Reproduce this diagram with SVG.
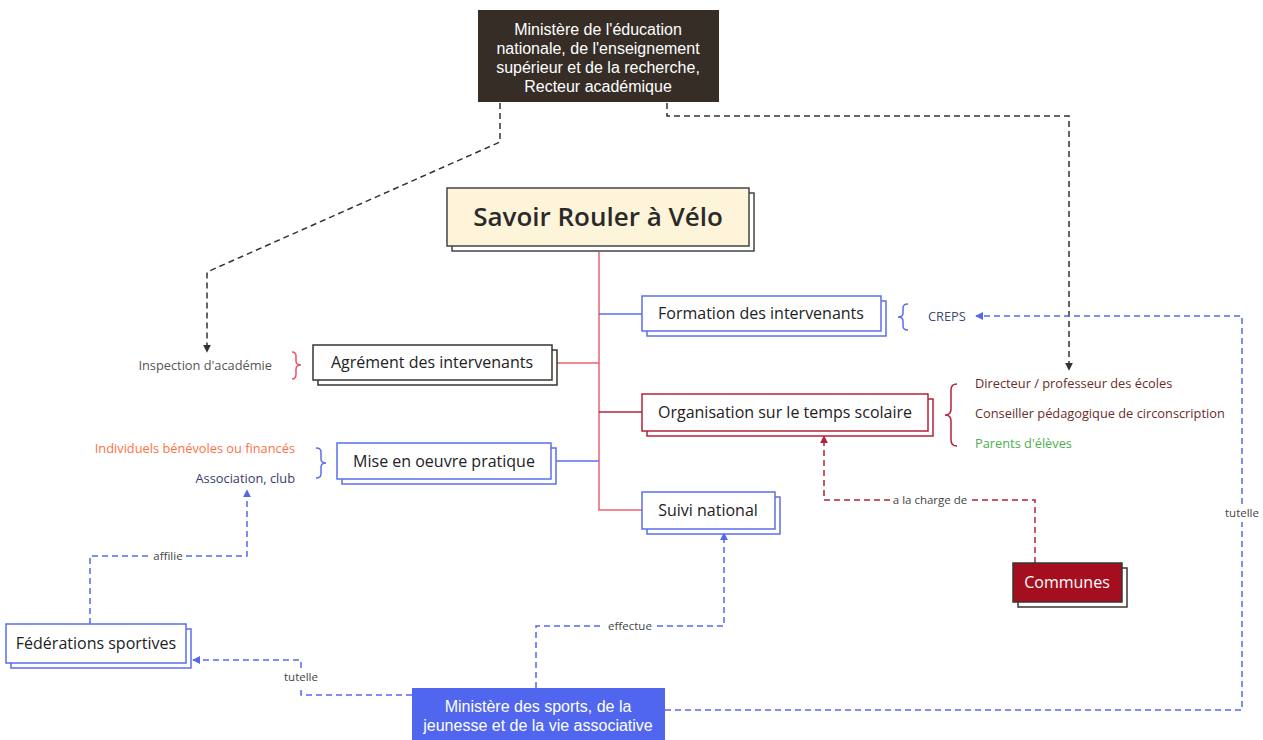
<svg xmlns="http://www.w3.org/2000/svg" width="1263" height="740" viewBox="0 0 1263 740">
<defs>
<style>
text{font-family:"Open Sans","Liberation Sans",sans-serif;}
.ttl{font-size:16px;fill:#222;}
.wt{fill:#fff;font-size:16px;}
.ml{font-family:"Liberation Sans",Arial,sans-serif;font-size:16px;fill:#fff;}
.sm{font-size:12.8px;}
.lbl{font-size:11.5px;fill:#444;}
.dash{fill:none;stroke-width:1.5;stroke-dasharray:6 4;}
.blue{stroke:#5567ef;}
.dark{stroke:#333;}
.dred{stroke:#b3233a;}
.bx{fill:#fff;stroke-width:1.5;}
</style>
<marker id="aBlue" viewBox="0 0 10 10" refX="9" refY="5" markerWidth="8" markerHeight="8" markerUnits="userSpaceOnUse" orient="auto"><path d="M0,0 L10,5 L0,10 z" fill="#5567ef"/></marker>
<marker id="aDark" viewBox="0 0 10 10" refX="9" refY="5" markerWidth="8" markerHeight="8" markerUnits="userSpaceOnUse" orient="auto"><path d="M0,0 L10,5 L0,10 z" fill="#333"/></marker>
<marker id="aRed" viewBox="0 0 10 10" refX="9" refY="5" markerWidth="8" markerHeight="8" markerUnits="userSpaceOnUse" orient="auto"><path d="M0,0 L10,5 L0,10 z" fill="#b3233a"/></marker>
</defs>
<rect width="1263" height="740" fill="#fff"/>

<g id="connectors">
  <path d="M599,252 V510 H642" fill="none" stroke="#ef6070" stroke-width="1.5"/>
  <path d="M599,314 H642" fill="none" stroke="#5b6ef0" stroke-width="1.5"/>
  <path d="M599,363 H557" fill="none" stroke="#ef6070" stroke-width="1.5"/>
  <path d="M599,412 H642" fill="none" stroke="#b3233a" stroke-width="1.5"/>
  <path d="M599,461 H556" fill="none" stroke="#5b6ef0" stroke-width="1.5"/>
  <path class="dash dark" d="M500,103 V142 L207,272 V352" marker-end="url(#aDark)"/>
  <path class="dash dark" d="M667,103 V116 H1069 V370" marker-end="url(#aDark)"/>
  <path class="dash dred" d="M1035,563 V500 H970 M890,500 H824 V436" marker-end="url(#aRed)"/>
  <path class="dash blue" d="M665,710 H1242 V522 M1242,504 V316 H976" marker-end="url(#aBlue)"/>
  <path class="dash blue" d="M536,688 V626 H603 M657,626 H724 V533" marker-end="url(#aBlue)"/>
  <path class="dash blue" d="M412,695 H301 V686 M301,668 V660 H193" marker-end="url(#aBlue)"/>
  <path class="dash blue" d="M90,624 V556 H150 M186,556 H247 V490" marker-end="url(#aBlue)"/>
  <text class="lbl" x="930" y="504" text-anchor="middle">a la charge de</text>
  <text class="lbl" x="1242" y="517" text-anchor="middle">tutelle</text>
  <text class="lbl" x="630" y="630" text-anchor="middle">effectue</text>
  <text class="lbl" x="301" y="681" text-anchor="middle">tutelle</text>
  <text class="lbl" x="168" y="560" text-anchor="middle">affilie</text>
</g>

<g id="n-men">
  <rect x="478" y="10" width="241" height="92" fill="#362e26"/>
  <text class="ml" text-anchor="middle" x="598" y="35">Ministère de l'éducation</text>
  <text class="ml" text-anchor="middle" x="598" y="54">nationale, de l'enseignement</text>
  <text class="ml" text-anchor="middle" x="598" y="73">supérieur et de la recherche,</text>
  <text class="ml" text-anchor="middle" x="598" y="92">Recteur académique</text>
</g>

<g id="n-root">
  <rect x="452" y="193" width="302" height="58" fill="#fff" stroke="#444" stroke-width="1.5"/>
  <rect x="447" y="188" width="302" height="58" fill="#fdf4da" stroke="#444" stroke-width="1.5"/>
  <text x="598" y="226" text-anchor="middle" style="font-size:26px;font-weight:600;fill:#2a2a2a">Savoir Rouler à Vélo</text>
</g>

<g id="n-formation">
  <rect class="bx" x="647" y="301" width="239" height="35" stroke="#5b6ef0"/>
  <rect class="bx" x="642" y="296" width="239" height="35" stroke="#5b6ef0"/>
  <text class="ttl" x="761" y="319" text-anchor="middle">Formation des intervenants</text>
</g>

<g id="n-creps">
  <path d="M908,304 Q903,304 903,308 V313 Q903,317 898,317 Q903,317 903,321 V326 Q903,330 908,330" fill="none" stroke="#5b6ef0" stroke-width="1.5"/>
  <text class="sm" x="928" y="321" fill="#3b4a7a">CREPS</text>
</g>

<g id="n-agrement">
  <rect class="bx" x="318" y="350" width="239" height="35" stroke="#3a352f"/>
  <rect class="bx" x="313" y="345" width="239" height="35" stroke="#3a352f"/>
  <text class="ttl" x="432" y="368" text-anchor="middle">Agrément des intervenants</text>
</g>

<g id="n-inspection">
  <path d="M292,352 Q296,352 296,356 V361 Q296,365 301,365 Q296,365 296,369 V374 Q296,379 292,379" fill="none" stroke="#ef4f62" stroke-width="1.5"/>
  <text class="sm" x="272" y="370" text-anchor="end" fill="#555">Inspection d'académie</text>
</g>

<g id="n-organisation">
  <rect class="bx" x="647" y="399" width="286" height="37" stroke="#b3233a"/>
  <rect class="bx" x="642" y="394" width="286" height="37" stroke="#b3233a"/>
  <text class="ttl" x="785" y="418" text-anchor="middle">Organisation sur le temps scolaire</text>
</g>

<g id="n-org-roles">
  <path d="M957,384 Q951,384 951,390 V409 Q951,415 945,415 Q951,415 951,421 V440 Q951,446 957,446" fill="none" stroke="#b3233a" stroke-width="1.5"/>
  <text class="sm" x="975" y="388" fill="#6b2b2b">Directeur / professeur des écoles</text>
  <text class="sm" x="975" y="418" fill="#6b2b2b">Conseiller pédagogique de circonscription</text>
  <text class="sm" x="975" y="448" fill="#4caf50">Parents d'élèves</text>
</g>

<g id="n-mise">
  <rect class="bx" x="342" y="448" width="214" height="36" stroke="#5b6ef0"/>
  <rect class="bx" x="337" y="443" width="214" height="36" stroke="#5b6ef0"/>
  <text class="ttl" x="444" y="467" text-anchor="middle">Mise en oeuvre pratique</text>
</g>

<g id="n-mise-roles">
  <path d="M316,448 Q321,448 321,452 V459 Q321,463 326,463 Q321,463 321,467 V474 Q321,478 316,478" fill="none" stroke="#5b6ef0" stroke-width="1.5"/>
  <text class="sm" x="295" y="453" text-anchor="end" fill="#ff7043">Individuels bénévoles ou financés</text>
  <text class="sm" x="295" y="483" text-anchor="end" fill="#3a3a6a">Association, club</text>
</g>

<g id="n-suivi">
  <rect class="bx" x="647" y="497" width="133" height="37" stroke="#5b6ef0"/>
  <rect class="bx" x="642" y="492" width="133" height="37" stroke="#5b6ef0"/>
  <text class="ttl" x="708" y="516" text-anchor="middle">Suivi national</text>
</g>

<g id="n-communes">
  <rect x="1018" y="568" width="109" height="39" fill="#fff" stroke="#3a352f" stroke-width="1.5"/>
  <rect x="1013" y="563" width="109" height="39" fill="#a50e1f" stroke="#3a352f" stroke-width="1.5"/>
  <text class="wt" x="1067" y="588" text-anchor="middle">Communes</text>
</g>

<g id="n-federations">
  <rect class="bx" x="11" y="629" width="180" height="39" stroke="#5b6ef0"/>
  <rect class="bx" x="6" y="624" width="180" height="39" stroke="#5b6ef0"/>
  <text class="ttl" x="96" y="649" text-anchor="middle">Fédérations sportives</text>
</g>

<g id="n-sports">
  <rect x="412" y="688" width="253" height="60" fill="#5066ef"/>
  <text class="ml" x="538" y="712" text-anchor="middle">Ministère des sports, de la</text>
  <text class="ml" x="538" y="731" text-anchor="middle">jeunesse et de la vie associative</text>
</g>
</svg>
